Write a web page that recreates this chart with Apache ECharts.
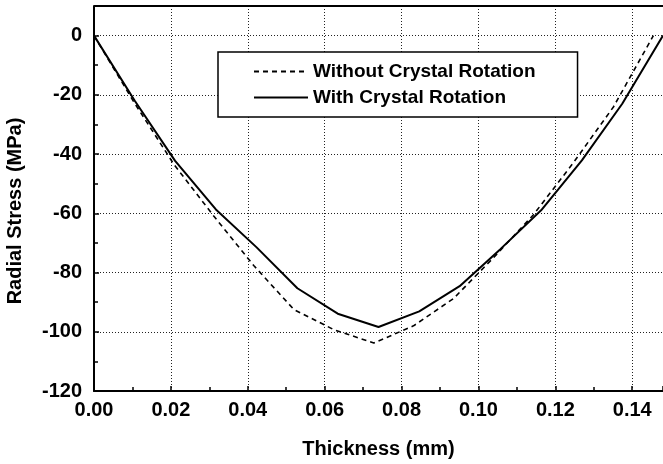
<!DOCTYPE html>
<html>
<head>
<meta charset="utf-8">
<script src="https://cdn.jsdelivr.net/npm/echarts@6/dist/echarts.min.js"></script>
<style>
html,body{margin:0;padding:0;background:#fff;}
#chart{width:663px;height:464px;}
</style>
</head>
<body>
<div id="chart"></div>
<script>
// Thickness positions (mm)
const xWith = [0, 0.0106, 0.0211, 0.0317, 0.0423, 0.0529, 0.0634, 0.0740, 0.0846, 0.0951, 0.1057, 0.1163, 0.1269, 0.1374, 0.1480];
const xWithout = [0, 0.0104, 0.0208, 0.0312, 0.0416, 0.0520, 0.0624, 0.0728, 0.0831, 0.0935, 0.1039, 0.1143, 0.1247, 0.1351, 0.1455];
// Radial stress (MPa)
const stressWith = [0, -22, -42.3, -58.7, -71.5, -85.3, -93.9, -98.4, -93.1, -84.6, -72.1, -59.0, -42.1, -23.0, 0];
const stressWithout = [0, -22.5, -43.5, -61, -77.7, -92.5, -99.3, -103.8, -98.0, -88.8, -75.0, -60.5, -42.9, -24.1, 0];
const seriesNames = ['Without Crystal Rotation', 'With Crystal Rotation'];
const xTitle = 'Thickness (mm)';
const yTitle = 'Radial Stress (MPa)';

const FONT = '"Liberation Sans", Arial, Helvetica, sans-serif';
const zip = (xs, ys) => xs.map((x, i) => [x, ys[i]]);
const dotted = { color: '#222', width: 1, type: [1, 2] };

const chart = echarts.init(document.getElementById('chart'), null, { renderer: 'canvas' });
chart.setOption({
  animation: false,
  backgroundColor: '#fff',
  grid: { left: 94, top: 6, right: 0, bottom: 71, containLabel: false },
  legend: {
    data: seriesNames,
    orient: 'vertical',
    left: 218, top: 52,
    itemWidth: 54, itemHeight: 14, itemGap: 7,
    padding: [10, 42, 10, 35],
    borderColor: '#000', borderWidth: 1.5,
    backgroundColor: '#fff',
    itemStyle: { opacity: 0 },
    textStyle: { fontFamily: FONT, fontWeight: 'bold', fontSize: 19, color: '#000' }
  },
  xAxis: {
    type: 'value', min: 0, max: 0.148, interval: 0.02,
    name: xTitle, nameLocation: 'middle', nameGap: 48,
    nameTextStyle: { fontFamily: FONT, fontWeight: 'bold', fontSize: 20, color: '#000' },
    axisLine: { show: true, onZero: false, lineStyle: { color: '#000', width: 2 } },
    axisTick: { show: true, inside: true, length: 5, lineStyle: { color: '#000', width: 1.5 } },
    minorTick: { show: true, splitNumber: 2, length: 4, lineStyle: { color: '#000', width: 1.5 } },
    axisLabel: { showMaxLabel: false, margin: 9, fontFamily: FONT, fontWeight: 'bold', fontSize: 20, color: '#000',
      formatter: v => v.toFixed(2) },
    splitLine: { show: true, lineStyle: dotted }
  },
  yAxis: {
    type: 'value', min: -120, max: 10, interval: 20,
    axisLine: { show: true, onZero: false, lineStyle: { color: '#000', width: 2 } },
    axisTick: { show: true, inside: true, length: 5, lineStyle: { color: '#000', width: 1.5 } },
    minorTick: { show: true, splitNumber: 2, length: 4, lineStyle: { color: '#000', width: 1.5 } },
    axisLabel: { showMaxLabel: false, margin: 12, fontFamily: FONT, fontWeight: 'bold', fontSize: 20, color: '#000' },
    splitLine: { show: true, lineStyle: dotted }
  },
  series: [{
    name: seriesNames[0], type: 'line',
    data: zip(xWithout, stressWithout), symbol: 'none',
    lineStyle: { color: '#000', width: 1.6, type: [5, 4] }, itemStyle: { color: '#000' }, z: 2
  }, {
    name: seriesNames[1], type: 'line',
    data: zip(xWith, stressWith), symbol: 'none',
    lineStyle: { color: '#000', width: 2 }, itemStyle: { color: '#000' }, z: 3
  }]
});

// top frame line of the plot area, placed from the axes' own scale
const tl = chart.convertToPixel({ gridIndex: 0 }, [0, 10]);
const tr = chart.convertToPixel({ gridIndex: 0 }, [0.148, 10]);
chart.setOption({
  graphic: [{
    type: 'text', rotation: Math.PI / 2, x: 15, y: 211,
    style: { text: yTitle, fontFamily: FONT, fontWeight: 'bold', fontSize: 20, fill: '#000',
      align: 'center', verticalAlign: 'middle' }
  }, {
    type: 'line', shape: { x1: tl[0], y1: tl[1], x2: tr[0], y2: tr[1] },
    style: { stroke: '#000', lineWidth: 2 }, z: 10
  }]
});
</script>
</body>
</html>
